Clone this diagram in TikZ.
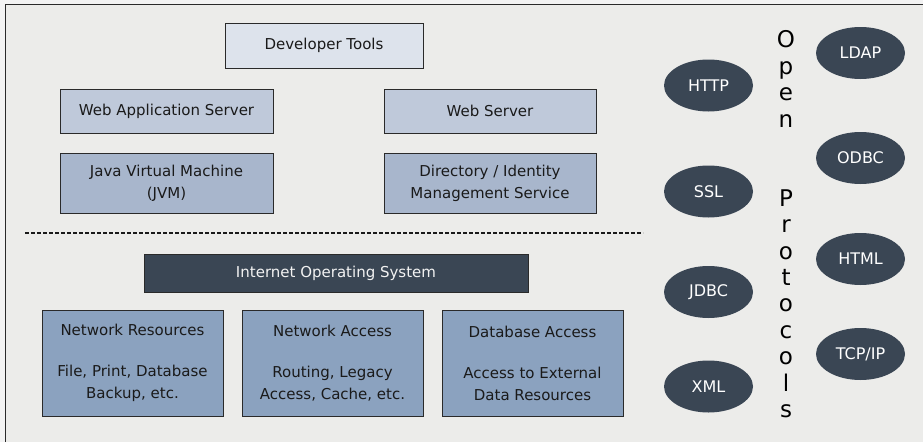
\documentclass[tikz,border=0pt]{standalone}
\usepackage{fontspec}
\setmainfont{DejaVu Sans}
\usetikzlibrary{shapes.geometric}
\definecolor{outerbg}{HTML}{F3F3F3}
\definecolor{panelbg}{HTML}{ECECEA}
\definecolor{frameline}{HTML}{2A2A2A}
\definecolor{palefill}{HTML}{DDE3EC}
\definecolor{lightfill}{HTML}{BFC9DA}
\definecolor{midfill}{HTML}{A8B6CC}
\definecolor{deepfill}{HTML}{8BA2BF}
\definecolor{darkfill}{HTML}{3A4654}
\definecolor{inktext}{HTML}{1A1A1A}
\tikzset{
  boxbase/.style={draw=frameline, line width=0.9pt, inner sep=0pt, align=center,
    text=inktext, font=\fontsize{15}{22}\selectfont},
  paleb/.style={boxbase, fill=palefill},
  lightb/.style={boxbase, fill=lightfill},
  midb/.style={boxbase, fill=midfill},
  deepb/.style={boxbase, fill=deepfill},
  darkb/.style={boxbase, fill=darkfill, text=white!95!black},
  proto/.style={ellipse, fill=darkfill, draw=none, inner sep=0pt,
    minimum width=89pt, minimum height=52pt, text=white,
    font=\fontsize{16}{19}\selectfont},
  sepline/.style={draw=inktext, line width=2pt, dash pattern=on 3.5pt off 2.5pt},
  vtitle/.style={align=center, text=black, font=\fontsize{23}{26.4}\selectfont, inner sep=0pt}
}
\begin{document}
\begin{tikzpicture}[x=1pt,y=-1pt]
\useasboundingbox (0,0) rectangle (923,442);
\fill[outerbg] (0,0) rectangle (923,442);
\fill[panelbg] (5.5,4.5) rectangle (923,442);
\draw[frameline, line width=1.5pt] (5.5,442) -- (5.5,4.5) -- (923,4.5);

% upper layer
\node[paleb, minimum width=198pt, minimum height=45pt] (dev) at (324,45.5) {Developer Tools};
\node[lightb, minimum width=213pt, minimum height=44pt] (was) at (166.5,111) {Web Application Server};
\node[lightb, minimum width=212pt, minimum height=44pt] (ws) at (490,111) {Web Server};
\node[midb, minimum width=213pt, minimum height=60pt] (jvm) at (166.5,183) {Java Virtual Machine\\(JVM)};
\node[midb, minimum width=212pt, minimum height=60pt] (dir) at (490,183) {Directory / Identity\\Management Service};

% separator
\coordinate (sepL) at (25,233);
\coordinate (sepR) at (643,233);
\draw[sepline] (sepL) -- (sepR);

% lower layer
\node[darkb, minimum width=384pt, minimum height=38pt] (ios) at (336,273) {Internet Operating System};
\node[deepb, minimum width=181pt, minimum height=106pt] (nr) at (132.5,363) {Network Resources\\[19pt]File, Print, Database\\Backup, etc.};
\node[deepb, minimum width=181pt, minimum height=106pt] (na) at (332.5,363) {Network Access\\[19pt]Routing, Legacy\\Access, Cache, etc.};
\node[deepb, minimum width=181pt, minimum height=106pt] (da) at (532.5,363) {Database Access\\[19pt]Access to External\\Data Resources};

% protocols
\node[proto] (http) at (708.5,85.5) {HTTP};
\node[proto] (ssl) at (708.5,191.5) {SSL};
\node[proto] (jdbc) at (708.5,292) {JDBC};
\node[proto] (xml) at (708.5,386.5) {XML};
\node[proto] (ldap) at (860.5,53) {LDAP};
\node[proto] (odbc) at (860.5,158) {ODBC};
\node[proto] (html) at (860.5,259) {HTML};
\node[proto] (tcp) at (860.5,354) {TCP/IP};

\node[vtitle, anchor=base] (open) at (786,417.5) {O\\p\\e\\n\\[52.8pt]P\\r\\o\\t\\o\\c\\o\\l\\s};
\end{tikzpicture}
\end{document}
